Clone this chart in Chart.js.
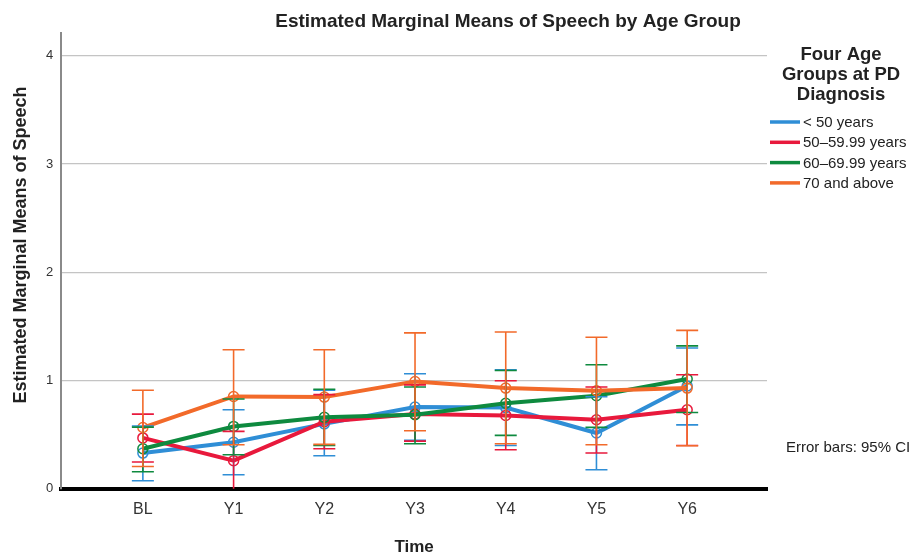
<!DOCTYPE html>
<html>
<head>
<meta charset="utf-8">
<script src="https://cdn.jsdelivr.net/npm/chart.js@4"></script>
<style>
  html, body { margin: 0; padding: 0; background: #fff; }
  #wrap { width: 916px; height: 557px; position: relative; }
</style>
</head>
<body>
<div id="wrap"><canvas id="emmChart" width="916" height="557"></canvas></div>
<script>
const timeLabels = ['BL', 'Y1', 'Y2', 'Y3', 'Y4', 'Y5', 'Y6'];
const groupNames = ['< 50 years', '50\u201359.99 years', '60\u201369.99 years', '70 and above'];
const groupColors = ['#2F8ED6', '#E8193C', '#0E8A3F', '#F26A2A'];

// means and 95% CI bounds
const meanUnder50 = [0.33, 0.43, 0.60, 0.755, 0.75, 0.515, 0.95];
const lowUnder50  = [0.074, 0.13, 0.305, 0.447, 0.40, 0.176, 0.59];
const highUnder50 = [0.58, 0.73, 0.91, 1.063, 1.10, 0.85, 1.30];

const mean50s = [0.47, 0.26, 0.62, 0.69, 0.678, 0.638, 0.73];
const low50s  = [0.247, -0.02, 0.37, 0.44, 0.36, 0.33, 0.40];
const high50s = [0.69, 0.53, 0.87, 0.96, 0.998, 0.94, 1.054];

const mean60s = [0.37, 0.576, 0.66, 0.684, 0.79, 0.86, 1.014];
const low60s  = [0.157, 0.314, 0.40, 0.416, 0.493, 0.567, 0.705];
const high60s = [0.57, 0.83, 0.92, 0.94, 1.093, 1.146, 1.32];

const mean70 = [0.566, 0.853, 0.847, 0.99, 0.93, 0.906, 0.93];
const low70  = [0.206, 0.407, 0.41, 0.536, 0.416, 0.407, 0.397];
const high70 = [0.91, 1.285, 1.285, 1.44, 1.448, 1.40, 1.463];

const yTicks = [0, 1, 2, 3, 4];

const means = [meanUnder50, mean50s, mean60s, mean70];
const lows = [lowUnder50, low50s, low60s, low70];
const highs = [highUnder50, high50s, high60s, high70];

const FONT = "'Liberation Sans', Arial, sans-serif";

function toPoints(arr) {
    return arr.map((v, i) => ({ x: i, y: v }));
}

// error bars drawn through the chart scales
const errorBars = {
    id: 'errorBars',
    afterDatasetsDraw(chart) {
        const ctx = chart.ctx;
        const xs = chart.scales.x;
        const ys = chart.scales.y;
        const area = chart.chartArea;
        ctx.save();
        ctx.beginPath();
        ctx.rect(area.left, area.top, area.right - area.left, area.bottom - area.top);
        ctx.clip();
        ctx.lineWidth = 1.6;
        for (let g = 0; g < means.length; g++) {
            ctx.strokeStyle = groupColors[g];
            for (let i = 0; i < timeLabels.length; i++) {
                const px = xs.getPixelForValue(i);
                const lo = ys.getPixelForValue(lows[g][i]);
                const hi = ys.getPixelForValue(highs[g][i]);
                ctx.beginPath();
                ctx.moveTo(px, lo);
                ctx.lineTo(px, hi);
                ctx.moveTo(px - 11, lo);
                ctx.lineTo(px + 11, lo);
                ctx.moveTo(px - 11, hi);
                ctx.lineTo(px + 11, hi);
                ctx.stroke();
            }
        }
        ctx.restore();
    }
};

// titles, legend and note
const decorations = {
    id: 'decorations',
    afterDraw(chart) {
        const ctx = chart.ctx;
        const area = chart.chartArea;
        ctx.save();
        ctx.fillStyle = '#222';
        ctx.textAlign = 'center';
        ctx.textBaseline = 'middle';
        ctx.font = 'bold 19px ' + FONT;
        ctx.fillText('Estimated Marginal Means of Speech by Age Group', 508, 22);

        ctx.font = 'bold 17px ' + FONT;
        ctx.fillText('Time', (area.left + area.right) / 2, 547);

        ctx.save();
        ctx.translate(21, 245);
        ctx.rotate(-Math.PI / 2);
        ctx.font = 'bold 18px ' + FONT;
        ctx.fillText('Estimated Marginal Means of Speech', 0, 0);
        ctx.restore();

        ctx.font = 'bold 18.5px ' + FONT;
        ctx.fillText('Four Age', 841, 55);
        ctx.fillText('Groups at PD', 841, 75);
        ctx.fillText('Diagnosis', 841, 95);

        ctx.textAlign = 'left';
        ctx.font = '15px ' + FONT;
        for (let g = 0; g < groupNames.length; g++) {
            const y = 122 + g * 20.3;
            ctx.strokeStyle = groupColors[g];
            ctx.lineWidth = 3.5;
            ctx.beginPath();
            ctx.moveTo(770, y);
            ctx.lineTo(800, y);
            ctx.stroke();
            ctx.fillStyle = '#222';
            ctx.fillText(groupNames[g], 803, y + 1);
        }
        ctx.fillText('Error bars: 95% CI', 786, 448);
        ctx.restore();
    }
};

const ctx = document.getElementById('emmChart').getContext('2d');

new Chart(ctx, {
    type: 'line',
    data: {
        datasets: groupNames.map((name, g) => ({
            label: name,
            data: toPoints(means[g]),
            borderColor: groupColors[g],
            backgroundColor: 'rgba(0,0,0,0)',
            borderWidth: 4,
            pointRadius: 5,
            pointBorderWidth: 1.5,
            pointBorderColor: groupColors[g],
            pointBackgroundColor: 'rgba(0,0,0,0)',
            tension: 0,
            order: 3 - g
        }))
    },
    options: {
        responsive: false,
        animation: false,
        layout: { padding: { top: 33, right: 149, left: 38, bottom: 27 } },
        plugins: {
            legend: { display: false },
            tooltip: { enabled: false }
        },
        scales: {
            x: {
                type: 'linear',
                min: -0.9,
                max: 6.88,
                afterBuildTicks(scale) {
                    scale.ticks = timeLabels.map((t, i) => ({ value: i }));
                },
                ticks: {
                    callback: (v) => timeLabels[v],
                    color: '#333',
                    font: { family: FONT, size: 16 },
                    padding: 11,
                    maxRotation: 0,
                    autoSkip: false
                },
                grid: { display: false, drawTicks: false },
                border: { color: '#000', width: 4 }
            },
            y: {
                min: 0,
                max: 4.21,
                afterBuildTicks(scale) {
                    scale.ticks = yTicks.map(v => ({ value: v }));
                },
                ticks: {
                    color: '#333',
                    font: { family: FONT, size: 13 },
                    padding: 8
                },
                grid: {
                    color: (c) => c.tick && c.tick.value === 0 ? 'rgba(0,0,0,0)' : '#c4c4c4',
                    lineWidth: 1.2,
                    drawTicks: false
                },
                border: { color: '#8a8a8a', width: 2 }
            }
        }
    },
    plugins: [errorBars, decorations]
});
</script>
</body>
</html>
